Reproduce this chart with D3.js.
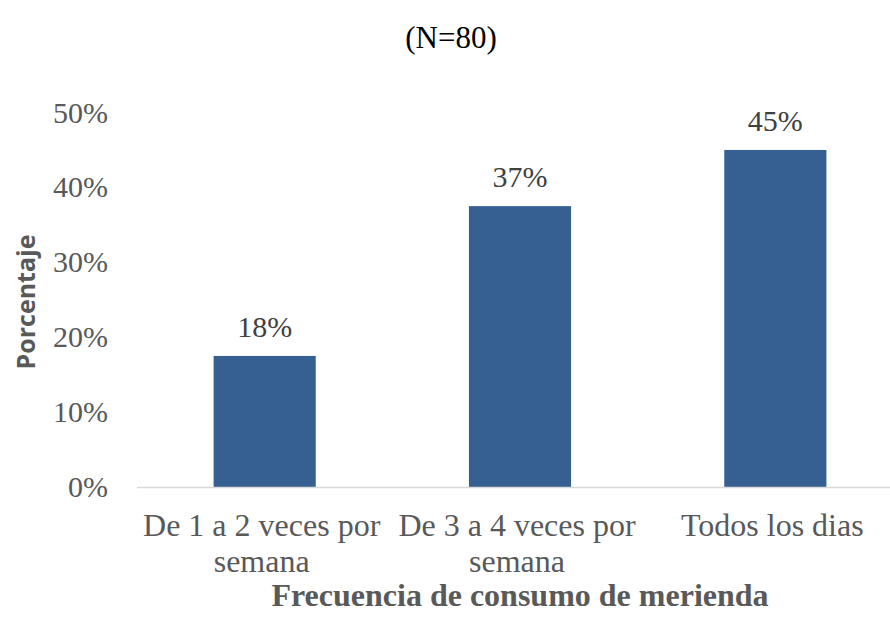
<!DOCTYPE html>
<html>
<head>
<meta charset="utf-8">
<script src="https://cdn.jsdelivr.net/npm/d3@7"></script>
<style>
  body { margin: 0; background: #fff; }
  svg { display: block; }
  .serif { font-family: "Liberation Serif", "Times New Roman", Times, serif; }
</style>
</head>
<body>
<div id="chart"></div>
<script>
// data
var categories = ["De 1 a 2 veces por semana", "De 3 a 4 veces por semana", "Todos los dias"];
var catLines = [["De 1 a 2 veces por", "semana"], ["De 3 a 4 veces por", "semana"], ["Todos los dias"]];
var values = [0.175, 0.375, 0.45];
var valueLabels = ["18%", "37%", "45%"];
var yTicks = [0, 0.1, 0.2, 0.3, 0.4, 0.5];

var width = 890, height = 619;

var svg = d3.select("#chart").append("svg")
    .attr("width", width)
    .attr("height", height);

var x = d3.scaleBand()
    .domain(categories)
    .range([137, 903])
    .paddingInner(0.6)
    .paddingOuter(0.3);

var y = d3.scaleLinear()
    .domain([0, 0.5])
    .range([487, 112.5]);

// title
svg.append("text")
    .attr("class", "serif")
    .attr("x", 451)
    .attr("y", 48)
    .attr("text-anchor", "middle")
    .style("font-size", "31px")
    .attr("fill", "#000")
    .text("(N=80)");

// y tick labels
svg.append("g")
  .selectAll("text")
    .data(yTicks)
    .enter()
    .append("text")
    .attr("class", "serif")
    .attr("x", 108)
    .attr("y", function(d) { return y(d) + 10; })
    .attr("text-anchor", "end")
    .style("font-size", "30px")
    .attr("fill", "#595959")
    .text(d3.format(".0%"));

// bars
svg.append("g")
  .selectAll("rect")
    .data(values)
    .enter()
    .append("rect")
    .attr("x", function(d, i) { return x(categories[i]); })
    .attr("width", x.bandwidth())
    .attr("y", function(d) { return y(d); })
    .attr("height", function(d) { return y(0) - y(d); })
    .attr("fill", "#376092");

// baseline
svg.append("line")
    .attr("x1", 137)
    .attr("x2", width)
    .attr("y1", y(0) + 0.5)
    .attr("y2", y(0) + 0.5)
    .attr("stroke", "#d9d9d9")
    .attr("stroke-width", 1.5);

// value labels
svg.append("g")
  .selectAll("text")
    .data(values)
    .enter()
    .append("text")
    .attr("class", "serif")
    .attr("x", function(d, i) { return x(categories[i]) + x.bandwidth() / 2; })
    .attr("y", function(d) { return y(d) - 19; })
    .attr("text-anchor", "middle")
    .style("font-size", "30px")
    .attr("fill", "#404040")
    .text(function(d, i) { return valueLabels[i]; });

// category labels
var cat = svg.append("g")
  .selectAll("text")
    .data(categories)
    .enter()
    .append("text")
    .attr("class", "serif")
    .attr("x", function(d) { return x(d) + x.bandwidth() / 2 - 3; })
    .attr("y", 536)
    .attr("text-anchor", "middle")
    .style("font-size", "32px")
    .attr("fill", "#595959");

cat.selectAll("tspan")
    .data(function(d, i) { return catLines[i]; })
    .enter()
    .append("tspan")
    .attr("x", function() { return d3.select(this.parentNode).attr("x"); })
    .attr("dy", function(d, i) { return i === 0 ? 0 : 36; })
    .text(function(d) { return d; });

// axis titles
svg.append("text")
    .attr("class", "serif")
    .attr("x", 520)
    .attr("y", 606)
    .attr("text-anchor", "middle")
    .style("font-size", "32px")
    .style("font-weight", "bold")
    .attr("fill", "#595959")
    .text("Frecuencia de consumo de merienda");

svg.append("text")
    .attr("transform", "translate(35,302) rotate(-90)")
    .attr("text-anchor", "middle")
    .style("font-family", "'Open Sans', sans-serif")
    .style("font-size", "25px")
    .style("font-weight", "bold")
    .attr("fill", "#595959")
    .text("Porcentaje");
</script>
</body>
</html>
